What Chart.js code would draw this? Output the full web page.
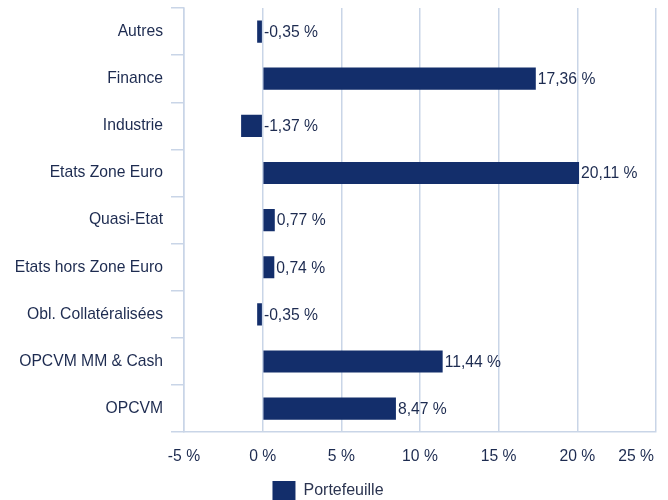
<!DOCTYPE html>
<html>
<head>
<meta charset="utf-8">
<script src="https://cdn.jsdelivr.net/npm/chart.js"></script>
<style>
  html, body { margin: 0; padding: 0; background: #fff; }
  #wrap { width: 668px; height: 500px; position: relative; }
</style>
</head>
<body>
<div id="wrap"><canvas id="mycanvas"></canvas></div>
<script>
var categories = ['Autres', 'Finance', 'Industrie', 'Etats Zone Euro', 'Quasi-Etat',
                  'Etats hors Zone Euro', 'Obl. Collatéralisées', 'OPCVM MM & Cash', 'OPCVM'];
var portefeuille = [-0.35, 17.36, -1.37, 20.11, 0.77, 0.74, -0.35, 11.44, 8.47];
var xTicks = [-5, 0, 5, 10, 15, 20, 25];

var navy = '#132e6b';
var textColor = '#1d2b50';
var gridColor = '#c9d5e7';
var fontSize = 15.7;

function fmt(v) {
    return v.toFixed(2).replace('.', ',') + ' %';
}

// value labels at the right end of each bar (at the zero line for negatives)
// + the last x tick label, kept inside the canvas
var barLabels = {
    id: 'barLabels',
    afterDraw: function(chart) {
        var ctx = chart.ctx;
        var meta = chart.getDatasetMeta(0);
        ctx.save();
        ctx.font = fontSize + 'px "Liberation Sans", Arial, sans-serif';
        ctx.fillStyle = textColor;
        ctx.textAlign = 'left';
        ctx.textBaseline = 'middle';
        meta.data.forEach(function(bar, i) {
            var x = Math.max(bar.x, bar.base) + 2;
            ctx.fillText(fmt(portefeuille[i]), x, bar.y + 1);
        });
        var xs = chart.scales.x;
        var last = xTicks[xTicks.length - 1];
        ctx.textAlign = 'right';
        ctx.fillText(last + ' %', chart.width - 14, xs.top + xs.options.ticks.padding + fontSize * 0.6);
        ctx.restore();
    }
};

Chart.defaults.font.family = '"Liberation Sans", Arial, sans-serif';
Chart.defaults.color = textColor;

var ctx = document.getElementById('mycanvas');
var myChart = new Chart(ctx, {
    type: 'bar',
    data: {
        labels: categories,
        datasets: [{
            label: 'Portefeuille',
            data: portefeuille,
            backgroundColor: navy,
            borderWidth: 0,
            barPercentage: 0.47,
            categoryPercentage: 1
        }]
    },
    options: {
        indexAxis: 'y',
        responsive: true,
        maintainAspectRatio: false,
        animation: false,
        layout: { padding: { top: 8, right: 12, left: 0, bottom: -11 } },
        scales: {
            x: {
                min: -5,
                max: 25,
                afterBuildTicks: function(axis) {
                    axis.ticks = xTicks.map(function(v) { return { value: v }; });
                },
                afterFit: function(axis) {
                    axis.paddingLeft = 0;
                    axis.paddingRight = 0;
                },
                ticks: {
                    font: { size: fontSize },
                    color: function(c) {
                        return c.index === xTicks.length - 1 ? 'rgba(0,0,0,0)' : textColor;
                    },
                    padding: 15,
                    maxRotation: 0,
                    callback: function(v) { return v + ' %'; }
                },
                grid: { color: gridColor, lineWidth: 1.5, drawTicks: false },
                border: { color: gridColor, width: 1.5 }
            },
            y: {
                afterFit: function(axis) {
                    axis.width = 184;
                    axis.paddingTop = 0;
                    axis.paddingBottom = 0;
                },
                ticks: {
                    font: { size: fontSize },
                    color: textColor,
                    padding: 8
                },
                grid: {
                    offset: true,
                    drawOnChartArea: false,
                    drawTicks: true,
                    tickLength: 13,
                    color: gridColor,
                    lineWidth: 1.5
                },
                border: { color: gridColor, width: 1.5 }
            }
        },
        plugins: {
            legend: {
                position: 'bottom',
                labels: {
                    boxWidth: 23,
                    boxHeight: 20,
                    color: '#2b3450',
                    font: { size: 16 },
                    padding: 0
                }
            },
            tooltip: { enabled: false }
        }
    },
    plugins: [barLabels]
});
</script>
</body>
</html>
